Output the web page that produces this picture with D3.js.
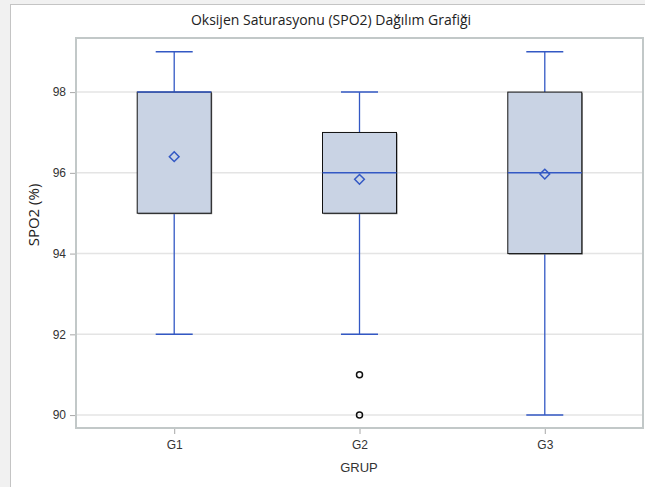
<!DOCTYPE html>
<html>
<head>
<meta charset="utf-8">
<script src="https://cdn.jsdelivr.net/npm/d3@7"></script>
<style>
  body { margin: 0; background: #f1f1f1; }
  svg { display: block; }
</style>
</head>
<body>
<div class="chart"></div>
<script>
// box plot stats
const groups = ["G1", "G2", "G3"];
const mins = [92, 92, 90];
const q1s = [95, 95, 94];
const medians = [98, 96, 96];
const q3s = [98, 97, 98];
const maxs = [99, 98, 99];
const means = [96.4, 95.84, 95.97];

// outliers (only G2 has them)
const outlierGroups = ["G2", "G2"];
const outlierValues = [91, 90];

const yTicks = [90, 92, 94, 96, 98];

const width = 645, height = 487;
const plotLeft = 76, plotRight = 643, plotTop = 38, plotBottom = 428;
const blue = "#3358c4";

const svg = d3.select(".chart").append("svg")
    .attr("width", width)
    .attr("height", height);

// outer graph area
svg.append("rect")
    .attr("x", 10.5).attr("y", 4.5)
    .attr("width", 700).attr("height", 600)
    .attr("fill", "#fff")
    .attr("stroke", "#c4c4c4");

const x = d3.scalePoint()
    .domain(groups)
    .range([plotLeft, plotRight])
    .padding(0.53);

const y = d3.scaleLinear()
    .domain([89.68, 99.34])
    .range([plotBottom, plotTop]);

// gridlines
svg.append("g")
    .selectAll("line")
    .data(yTicks)
    .enter().append("line")
    .attr("x1", plotLeft).attr("x2", plotRight)
    .attr("y1", d => y(d)).attr("y2", d => y(d))
    .attr("stroke", "#e4e4e4")
    .attr("stroke-width", 1.5);

// y-axis
const yAxis = svg.append("g")
    .attr("transform", `translate(${plotLeft},0)`)
    .call(d3.axisLeft(y).tickValues(yTicks).tickSize(6).tickPadding(4));
yAxis.select(".domain").remove();
yAxis.selectAll("line").attr("stroke", "#a8a8a8");
yAxis.selectAll("text")
    .attr("fill", "#333")
    .style("font-family", "Liberation Sans, Arial, sans-serif")
    .style("font-size", "12px");

// x-axis
const xAxis = svg.append("g")
    .attr("transform", `translate(0,${plotBottom})`)
    .call(d3.axisBottom(x).tickSize(6).tickPadding(6));
xAxis.select(".domain").remove();
xAxis.selectAll("line").attr("stroke", "#a8a8a8");
xAxis.selectAll("text")
    .attr("fill", "#333")
    .style("font-family", "Liberation Sans, Arial, sans-serif")
    .style("font-size", "12px");

// frame
svg.append("rect")
    .attr("x", plotLeft).attr("y", plotTop)
    .attr("width", plotRight - plotLeft).attr("height", plotBottom - plotTop)
    .attr("fill", "none")
    .attr("stroke", "#c2c8c8")
    .attr("stroke-width", 2);

const boxW = 74, capW = 37;
const stats = groups.map((g, i) => ({
    g, min: mins[i], q1: q1s[i], med: medians[i], q3: q3s[i], max: maxs[i], mean: means[i]
}));

const box = svg.append("g").selectAll("g")
    .data(stats)
    .enter().append("g");

// whiskers
box.append("line")
    .attr("x1", d => x(d.g)).attr("x2", d => x(d.g))
    .attr("y1", d => y(d.max)).attr("y2", d => y(d.q3))
    .attr("stroke", blue).attr("stroke-width", 1.3);
box.append("line")
    .attr("x1", d => x(d.g)).attr("x2", d => x(d.g))
    .attr("y1", d => y(d.q1)).attr("y2", d => y(d.min))
    .attr("stroke", blue).attr("stroke-width", 1.3);
box.append("line")
    .attr("x1", d => x(d.g) - capW / 2).attr("x2", d => x(d.g) + capW / 2)
    .attr("y1", d => y(d.max)).attr("y2", d => y(d.max))
    .attr("stroke", blue).attr("stroke-width", 1.5);
box.append("line")
    .attr("x1", d => x(d.g) - capW / 2).attr("x2", d => x(d.g) + capW / 2)
    .attr("y1", d => y(d.min)).attr("y2", d => y(d.min))
    .attr("stroke", blue).attr("stroke-width", 1.5);

// box shadow + box
box.append("rect")
    .attr("x", d => x(d.g) - boxW / 2 + 1)
    .attr("y", d => y(d.q3) + 1)
    .attr("width", boxW)
    .attr("height", d => y(d.q1) - y(d.q3))
    .attr("fill", "#777");
box.append("rect")
    .attr("x", d => x(d.g) - boxW / 2)
    .attr("y", d => y(d.q3))
    .attr("width", boxW)
    .attr("height", d => y(d.q1) - y(d.q3))
    .attr("fill", "#c9d3e4")
    .attr("stroke", "#111")
    .attr("stroke-width", 1);

// median
box.append("line")
    .attr("x1", d => x(d.g) - boxW / 2).attr("x2", d => x(d.g) + boxW / 2)
    .attr("y1", d => y(d.med)).attr("y2", d => y(d.med))
    .attr("stroke", blue).attr("stroke-width", 1.5);

// mean diamond
box.append("path")
    .attr("d", d3.symbol(d3.symbolDiamond2, 60))
    .attr("transform", d => `translate(${x(d.g)},${y(d.mean)})`)
    .attr("fill", "none")
    .attr("stroke", blue)
    .attr("stroke-width", 1.5);

// outliers
svg.append("g").selectAll("circle")
    .data(outlierValues)
    .enter().append("circle")
    .attr("cx", (d, i) => x(outlierGroups[i]))
    .attr("cy", d => y(d))
    .attr("r", 3)
    .attr("fill", "none")
    .attr("stroke", "#111")
    .attr("stroke-width", 1.5);

// title
svg.append("text")
    .attr("x", 331).attr("y", 25)
    .attr("text-anchor", "middle")
    .attr("fill", "#222")
    .style("font-family", "Open Sans, sans-serif")
    .style("font-size", "14px")
    .text("Oksijen Saturasyonu (SPO2) Dağılım Grafiği");

// axis titles
svg.append("text")
    .attr("x", 359).attr("y", 472)
    .attr("text-anchor", "middle")
    .attr("fill", "#333")
    .style("font-family", "Liberation Sans, Arial, sans-serif")
    .style("font-size", "13px")
    .text("GRUP");

svg.append("text")
    .attr("transform", "translate(39,215) rotate(-90)")
    .attr("text-anchor", "middle")
    .attr("fill", "#222")
    .style("font-family", "Open Sans, sans-serif")
    .style("font-size", "15px")
    .text("SPO2 (%)");
</script>
</body>
</html>
